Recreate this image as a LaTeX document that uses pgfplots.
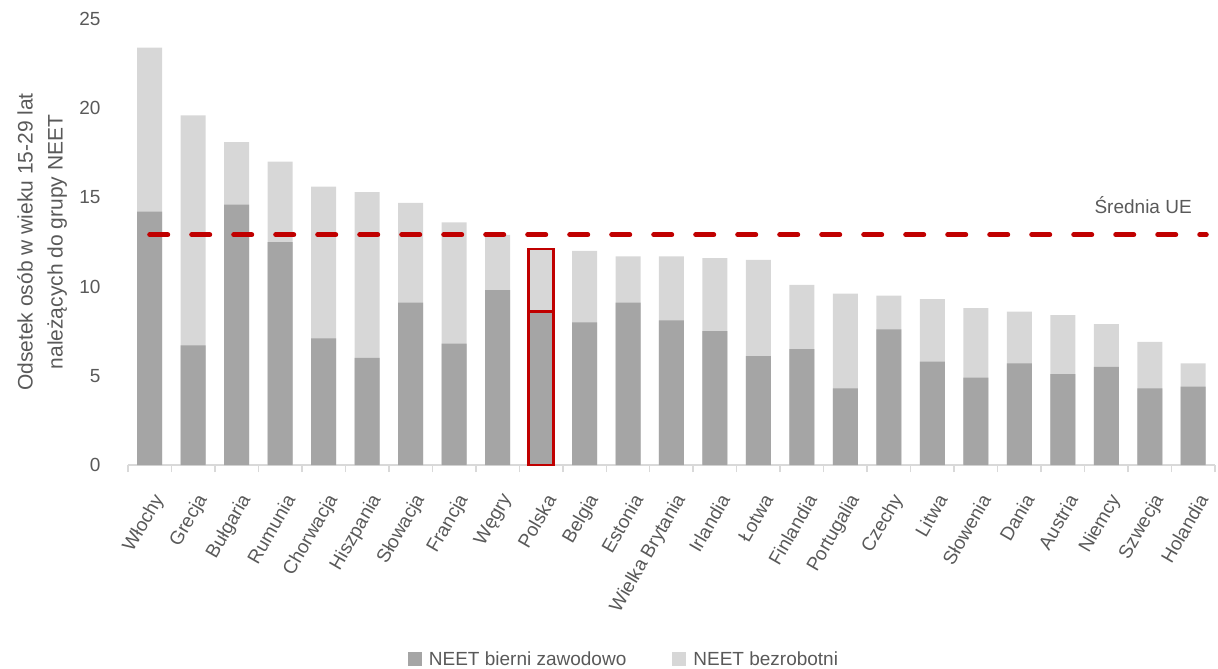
\documentclass[border=0pt]{standalone}
\usepackage{fontspec}
\setmainfont{Liberation Sans}
\usepackage{pgfplots}
\usepackage{pgfplotstable}
\pgfplotsset{compat=1.18}

\definecolor{txt}{HTML}{595959}
\definecolor{ciemny}{HTML}{A5A5A5}
\definecolor{jasny}{HTML}{D7D7D7}
\definecolor{czerwony}{HTML}{C00000}
\definecolor{os}{HTML}{D9D9D9}

\newcommand\tfont{\fontsize{19bp}{23bp}\selectfont}
\newcommand\lfont{\fontsize{21bp}{30bp}\selectfont}

% x = kraj, bierni = NEET bierni zawodowo, razem = bierni + bezrobotni
\pgfplotstableread{
x bierni razem
0  14.2 23.4
1  6.7  19.6
2  14.6 18.1
3  12.5 17.0
4  7.1  15.6
5  6.0  15.3
6  9.1  14.7
7  6.8  13.6
8  9.8  12.9
9  8.6  12.1
10 8.0  12.0
11 9.1  11.7
12 8.1  11.7
13 7.5  11.6
14 6.1  11.5
15 6.5  10.1
16 4.3  9.6
17 7.6  9.5
18 5.8  9.3
19 4.9  8.8
20 5.7  8.6
21 5.1  8.4
22 5.5  7.9
23 4.3  6.9
24 4.4  5.7
}\neet

\begin{document}
\begin{tikzpicture}
\useasboundingbox (-128bp,-204bp) rectangle (1090bp,465bp);
\begin{axis}[
    width=1087bp, height=446bp, scale only axis,
    at={(0,0)}, anchor=south west,
    xmin=-0.5, xmax=24.5, ymin=0, ymax=25,
    clip=false,
    axis lines*=left,
    y axis line style={draw=none},
    x axis line style={os, line width=1.5bp},
    tick align=outside,
    ytick={0,5,...,25},
    ytick style={draw=none},
    yticklabel style={font=\tfont, text=txt, inner sep=0pt, xshift=-23bp},
    xtick={0,...,24},
    xtick style={draw=none},
    xticklabels={Włochy,Grecja,Bułgaria,Rumunia,Chorwacja,Hiszpania,Słowacja,Francja,Węgry,Polska,Belgia,Estonia,{Wielka Brytania},Irlandia,Łotwa,Finlandia,Portugalia,Czechy,Litwa,Słowenia,Dania,Austria,Niemcy,Szwecja,Holandia},
    xticklabel style={font=\tfont, text=txt, inner sep=0pt, xshift=10bp, yshift=-27bp, rotate=60, anchor=east},
    extra x ticks={-0.5,0.5,...,24.5},
    extra x tick labels={},
    extra x tick style={xtick style={draw=os, line width=1.5bp}, major tick length=7bp},
    /pgf/number format/assume math mode=true,
    ylabel={Odsetek osób w wieku 15-29 lat\\należących do grupy NEET},
    every axis y label/.style={at={(axis description cs:-0.079,0.5)}, rotate=90, anchor=center, align=center, font=\lfont, text=txt},
    legend style={at={(axis description cs:0.4563,-0.435)}, anchor=center, draw=none, fill=none, font=\tfont, text=txt, legend columns=2, /tikz/every even column/.append style={column sep=44bp}},
    legend image code/.code={\fill[#1] (0bp,-7bp) rectangle (14bp,7bp); \path (19bp,0bp);},
]
\addlegendimage{fill=ciemny, draw=none}
\addlegendentry{NEET bierni zawodowo}
\addlegendimage{fill=jasny, draw=none}
\addlegendentry{NEET bezrobotni}

\addplot[ybar, bar width=25bp, bar shift=0pt, fill=jasny, draw=none, forget plot] table[x=x, y=razem] {\neet};
\addplot[ybar, bar width=25bp, bar shift=0pt, fill=ciemny, draw=none, forget plot] table[x=x, y=bierni] {\neet};

% wyróżnienie Polski
\addplot[ybar, bar width=25bp, bar shift=0pt, fill=none, draw=czerwony, line width=2.5bp, forget plot] coordinates {(9,12.1)};
\addplot[ybar, bar width=25bp, bar shift=0pt, fill=none, draw=czerwony, line width=2.5bp, forget plot] coordinates {(9,8.6)};

% średnia UE
\addplot[czerwony, line width=5bp, line cap=round, dash pattern=on 18bp off 24bp, forget plot] coordinates {(0,12.9) (24.3,12.9)};
\node[anchor=base east, font=\tfont, text=txt, inner sep=0pt] at (axis cs:23.97,14.07) {Średnia UE};
\end{axis}
\end{tikzpicture}
\end{document}
